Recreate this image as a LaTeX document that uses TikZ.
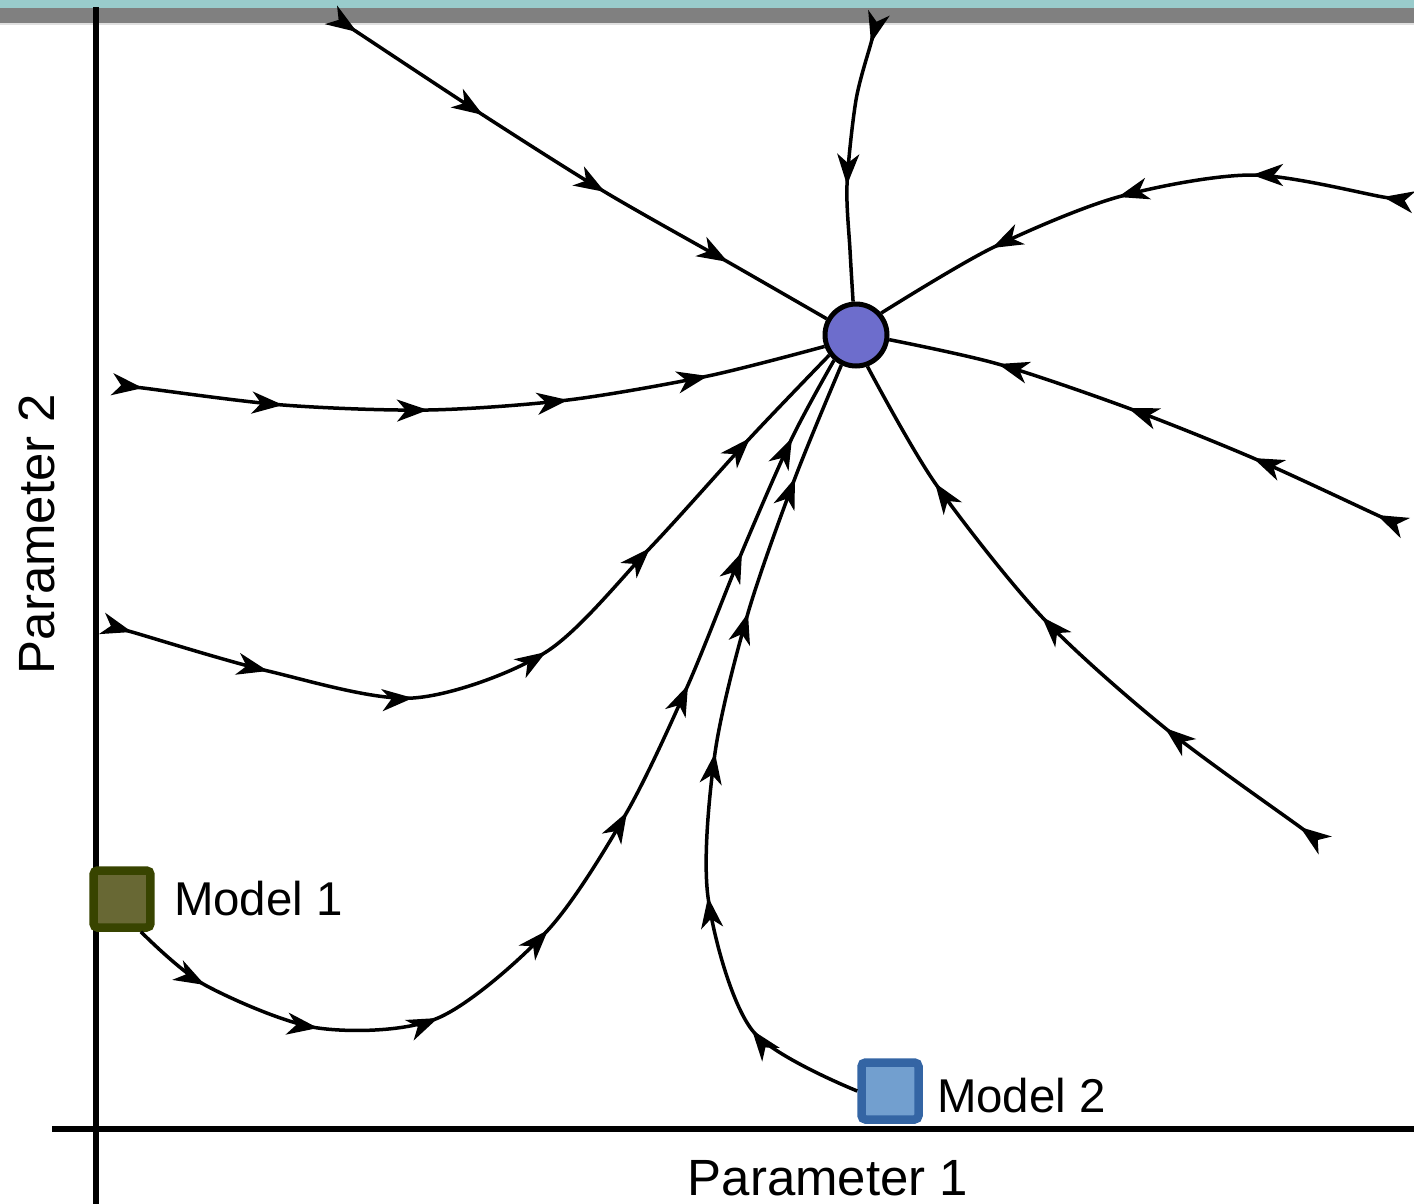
\documentclass[tikz,border=0pt]{standalone}
\usepackage{fontspec}
\setmainfont{Liberation Sans}
\usepackage{tikz}
\usetikzlibrary{arrows.meta, positioning, calc}
\definecolor{bandteal}{HTML}{99CCCC}
\definecolor{bandgray}{HTML}{808080}
\definecolor{sinkfill}{HTML}{6D6DCC}
\definecolor{olivefill}{HTML}{686834}
\definecolor{oliveedge}{HTML}{384400}
\definecolor{bluefill}{HTML}{729FCF}
\definecolor{blueedge}{HTML}{3465A4}

\tikzset{
  traj/.style={line width=0.07cm},
  trajtip/.style={line width=0.07cm, -{Stealth[length=0.62cm, width=0.44cm, inset=0.18cm]}},
  model/.style={draw, line width=0.17cm, rounded corners=0.08cm, minimum size=1.14cm, inner sep=0pt},
  lbl/.style={inner sep=0pt, font=\fontsize{27pt}{32pt}\selectfont},
  axlbl/.style={inner sep=0pt, font=\fontsize{29pt}{34pt}\selectfont},
  axis/.style={line width=0.11cm}
}
% sipka ve vrcholu #2, smer od #1 k #3
\newcommand{\trajarrow}[3]{\draw[trajtip] ($(#2)+0.05*(#1)-0.05*(#3)$) -- (#2);}

\begin{document}
\begin{tikzpicture}[x=0.02cm, y=-0.02cm]
  \useasboundingbox (0,0) rectangle (1414,1204);

  % Pruhy nahore
  \fill[bandteal] (0,0) rectangle (1414,8);
  \fill[bandgray] (0,8) rectangle (1414,23);
  \fill[black!12] (0,23) rectangle (1414,24.5);

  % Osy
  \draw[axis] (96,7) -- (96,1204);
  \draw[axis] (52,1129) -- (1414,1129);
  \node[axlbl] (p1) at (828,1178) {Parameter 1};
  \node[axlbl, rotate=90] (p2) at (37,534) {Parameter 2};

  % Atraktor a modely
  \node[circle, draw, line width=0.1cm, fill=sinkfill, minimum size=1.24cm, inner sep=0pt] (att) at (856,335) {};
  \node[model, draw=oliveedge, fill=olivefill] (m1) at (122,899) {};
  \node[model, draw=blueedge, fill=bluefill] (m2) at (890,1091) {};
  \node[lbl, right=0.38cm of m1] (t1) {Model 1};
  \node[lbl, right=0.28cm of m2, yshift=-0.1cm] (t2) {Model 2};

  % Volne konce
  \coordinate (s1) at (357,32);
  \coordinate (s2) at (871,43);
  \coordinate (s3) at (1383,197);
  \coordinate (s4) at (1377,515);
  \coordinate (s5) at (1300,827);
  \coordinate (s6) at (143,388);
  \coordinate (s7) at (132,632);

  % Trajektorie
  \draw[traj] plot[smooth] coordinates {($(s1)!-0.18cm!(483,115)$) (s1) (483,115) (605,192) (728,262) (att.151)};
  \trajarrow{s1}{s1}{483,115}
  \trajarrow{s1}{483,115}{605,192}
  \trajarrow{483,115}{605,192}{728,262}
  \trajarrow{605,192}{728,262}{att.151}

  \draw[traj] plot[smooth] coordinates {($(s2)!-0.18cm!(856,100)$) (s2) (856,100) (847,185) (850,250) (att.95)};
  \trajarrow{s2}{s2}{856,100}
  \trajarrow{856,100}{847,185}{850,250}

  \draw[traj] plot[smooth] coordinates {($(s3)!-0.18cm!(1252,175)$) (s3) (1252,175) (1118,197) (992,248) (att.41)};
  \trajarrow{s3}{s3}{1252,175}
  \trajarrow{s3}{1252,175}{1118,197}
  \trajarrow{1252,175}{1118,197}{992,248}
  \trajarrow{1118,197}{992,248}{att.41}

  \draw[traj] plot[smooth] coordinates {($(s4)!-0.18cm!(1253,458)$) (s4) (1253,458) (1128,408) (998,364) (att.-8)};
  \trajarrow{s4}{s4}{1253,458}
  \trajarrow{s4}{1253,458}{1128,408}
  \trajarrow{1253,458}{1128,408}{998,364}
  \trajarrow{1128,408}{998,364}{att.-8}

  \draw[traj] plot[smooth] coordinates {($(s5)!-0.18cm!(1165,728)$) (s5) (1165,728) (1042,617) (935,483) (att.-70)};
  \trajarrow{s5}{s5}{1165,728}
  \trajarrow{s5}{1165,728}{1042,617}
  \trajarrow{1165,728}{1042,617}{935,483}
  \trajarrow{1042,617}{935,483}{att.-70}

  \draw[traj] plot[smooth] coordinates {($(s6)!-0.18cm!(283,405)$) (s6) (283,405) (428,410) (568,400) (708,376) (att.200)};
  \trajarrow{s6}{s6}{283,405}
  \trajarrow{s6}{283,405}{428,410}
  \trajarrow{283,405}{428,410}{568,400}
  \trajarrow{428,410}{568,400}{708,376}
  \trajarrow{568,400}{708,376}{att.200}

  \draw[traj] plot[smooth] coordinates {($(s7)!-0.18cm!(268,671)$) (s7) (268,671) (413,698) (546,652) (650,548) (750,438) (att.217)};
  \trajarrow{s7}{s7}{268,671}
  \trajarrow{s7}{268,671}{413,698}
  \trajarrow{268,671}{413,698}{546,652}
  \trajarrow{413,698}{546,652}{650,548}
  \trajarrow{546,652}{650,548}{750,438}
  \trajarrow{650,548}{750,438}{att.217}

  \draw[traj] plot[smooth] coordinates {(m1.-60) (205,985) (318,1028) (438,1018) (548,930) (627,812) (688,685) (742,552) (792,438) (att.229)};
  \trajarrow{m1.-60}{205,985}{318,1028}
  \trajarrow{205,985}{318,1028}{438,1018}
  \trajarrow{318,1028}{438,1018}{548,930}
  \trajarrow{438,1018}{548,930}{627,812}
  \trajarrow{548,930}{627,812}{688,685}
  \trajarrow{627,812}{688,685}{742,552}
  \trajarrow{688,685}{742,552}{792,438}
  \trajarrow{742,552}{792,438}{att.229}

  \draw[traj] plot[smooth] coordinates {(m2.west) (752,1030) (708,897) (715,753) (748,613) (795,478) (att.244)};
  \trajarrow{m2.west}{752,1030}{708,897}
  \trajarrow{752,1030}{708,897}{715,753}
  \trajarrow{708,897}{715,753}{748,613}
  \trajarrow{715,753}{748,613}{795,478}
  \trajarrow{748,613}{795,478}{att.244}
\end{tikzpicture}
\end{document}
